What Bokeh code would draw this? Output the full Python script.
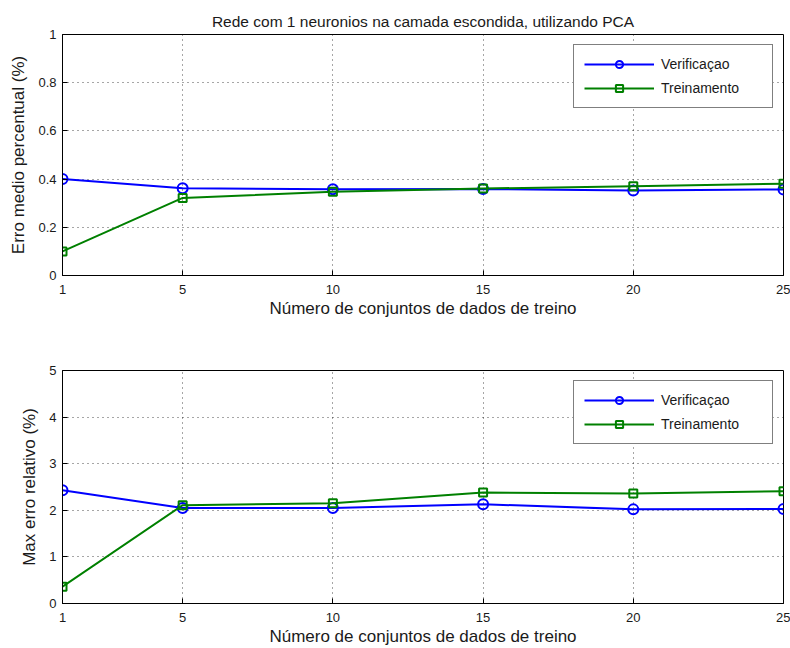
from bokeh.plotting import figure
from bokeh.layouts import column
from bokeh.models import FixedTicker, Range1d, NumeralTickFormatter
from bokeh.embed import file_html
from bokeh.resources import INLINE

conjuntos = [1, 5, 10, 15, 20, 25]
erro_medio_verificacao = [0.400, 0.362, 0.358, 0.359, 0.353, 0.357]
erro_medio_treinamento = [0.100, 0.322, 0.347, 0.361, 0.370, 0.381]
max_erro_verificacao = [2.43, 2.05, 2.05, 2.13, 2.02, 2.03]
max_erro_treinamento = [0.36, 2.11, 2.15, 2.38, 2.36, 2.41]
x_ticks = [1, 5, 10, 15, 20, 25]
y1_ticks = [0, 0.2, 0.4, 0.6, 0.8, 1]
y2_ticks = [0, 1, 2, 3, 4, 5]

titulo = "Rede com 1 neuronios na camada escondida, utilizando PCA"
x_label = "Número de conjuntos de dados de treino"
y1_label = "Erro medio percentual (%)"
y2_label = "Max erro relativo (%)"
serie_nomes = ["Verificaçao", "Treinamento"]

FONT = "Liberation Sans"
BLUE = "#0000ff"
GREEN = "#008000"
TXT = "#1a1a1a"


def make_panel(yv, ymax, ylabel, ticks, title, top, bottom):
    p = figure(width=790, height=324, output_backend="svg", toolbar_location=None,
               x_range=Range1d(1, 25), y_range=Range1d(0, ymax),
               min_border_left=62, min_border_right=7,
               min_border_top=top, min_border_bottom=bottom)
    if title:
        p.title.text = title
        p.title.align = "center"
        p.title.text_font = FONT
        p.title.text_font_size = "15.5px"
        p.title.text_font_style = "normal"
        p.title.text_color = TXT
        p.title.offset = 0
    p.outline_line_color = "black"
    p.outline_line_width = 1
    p.background_fill_color = "white"
    p.border_fill_color = "white"

    for ax in (p.xaxis[0], p.yaxis[0]):
        ax.major_tick_in = 5
        ax.major_tick_out = 0
        ax.minor_tick_line_color = None
        ax.axis_line_color = "black"
        ax.major_tick_line_color = "black"
        ax.major_label_text_font = FONT
        ax.major_label_text_font_size = "13px"
        ax.major_label_text_color = TXT
        ax.axis_label_text_font = FONT
        ax.axis_label_text_font_size = "17px"
        ax.axis_label_text_font_style = "normal"
        ax.axis_label_text_color = TXT
    p.xaxis.ticker = FixedTicker(ticks=x_ticks)
    p.yaxis.ticker = FixedTicker(ticks=ticks)
    p.yaxis.formatter = NumeralTickFormatter(format="0.[0]")
    p.xaxis.axis_label = x_label
    p.yaxis.axis_label = ylabel
    p.xaxis.major_label_standoff = 9
    p.xaxis.axis_label_standoff = 2
    p.yaxis.major_label_standoff = 6
    p.yaxis.axis_label_standoff = 7

    p.xgrid.ticker = FixedTicker(ticks=x_ticks)
    p.ygrid.ticker = FixedTicker(ticks=ticks)
    for g in (p.xgrid[0], p.ygrid[0]):
        g.grid_line_color = "black"
        g.grid_line_alpha = 0.7
        g.grid_line_dash = "1 4"
        g.grid_line_width = 1

    v, t = yv
    p.line(conjuntos, v, line_color=BLUE, line_width=2, legend_label=serie_nomes[0])
    p.scatter(conjuntos, v, marker="circle", size=10, line_color=BLUE, line_width=2,
              fill_color=None, legend_label=serie_nomes[0])
    p.line(conjuntos, t, line_color=GREEN, line_width=2, legend_label=serie_nomes[1])
    p.scatter(conjuntos, t, marker="square", size=8, line_color=GREEN, line_width=2,
              fill_color=None, legend_label=serie_nomes[1])

    lg = p.legend[0]
    lg.location = "top_right"
    lg.margin = 10
    lg.padding = 10
    lg.spacing = 6
    lg.label_height = 18
    lg.glyph_height = 18
    lg.glyph_width = 70
    lg.label_standoff = 7
    lg.label_width = 101
    lg.label_text_font = FONT
    lg.label_text_font_size = "14px"
    lg.label_text_color = TXT
    lg.border_line_color = "black"
    lg.border_line_width = 1
    lg.background_fill_color = "white"
    lg.background_fill_alpha = 1
    return p


p1 = make_panel((erro_medio_verificacao, erro_medio_treinamento), 1, y1_label,
                y1_ticks, titulo, 34, 49)
p2 = make_panel((max_erro_verificacao, max_erro_treinamento), 5, y2_label,
                y2_ticks, None, 46, 44)

layout = column(p1, p2, spacing=0)
open("out.html", "w").write(file_html(layout, INLINE))
